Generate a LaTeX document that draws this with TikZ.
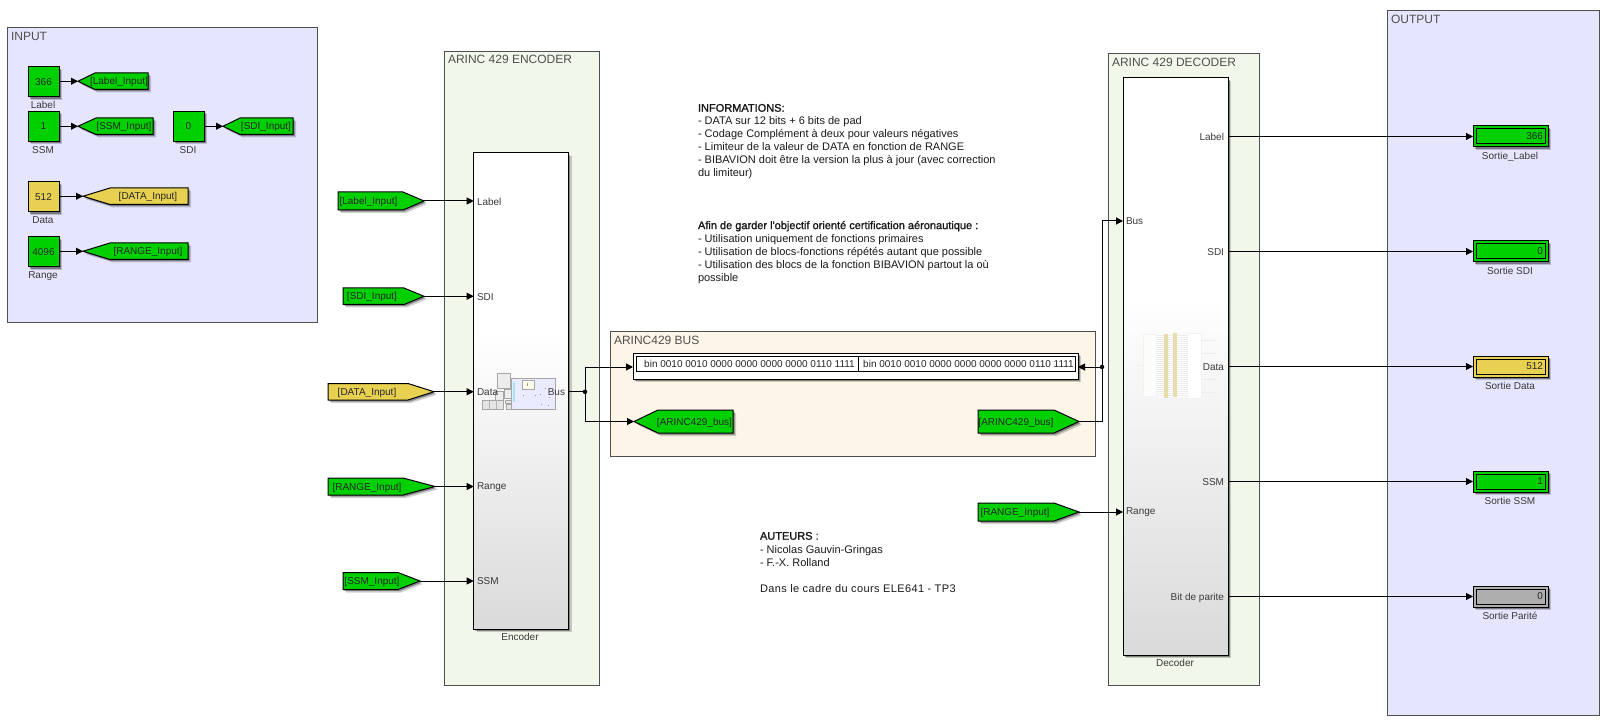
\documentclass[tikz,border=0pt]{standalone}
\usepackage{fontspec}
\setmainfont{Liberation Sans}
\newfontfamily\fakebold[FakeBold=1.6]{Liberation Sans}
\usetikzlibrary{arrows.meta,shadows}
\definecolor{simgreen}{HTML}{00D000}
\definecolor{simyellow}{HTML}{E8D050}
\definecolor{simgray}{HTML}{AEAEAE}
\definecolor{areaviolet}{HTML}{E5E5FD}
\definecolor{areagreen}{HTML}{F1F7EA}
\definecolor{areaorange}{HTML}{FDF5E7}
\definecolor{arealine}{HTML}{505050}
\definecolor{txtgray}{HTML}{3A3A3A}
\definecolor{gradbottom}{HTML}{DADADA}
\definecolor{thumbyellow}{HTML}{E6DDA8}
\pgfdeclareverticalshading{blockgrad}{100bp}{color(0bp)=(gradbottom); color(25bp)=(gradbottom); color(56bp)=(white); color(75bp)=(white); color(100bp)=(white)}
\tikzset{
  every node/.append style={outer sep=0pt},
  softshadow/.style={drop shadow={shadow xshift=3pt,shadow yshift=-3pt,opacity=.18,fill=black},drop shadow={shadow xshift=1.6pt,shadow yshift=-1.6pt,opacity=.35,fill=black}},
  area/.style={draw=arealine,line width=.9pt,anchor=north west,inner sep=0pt},
  areatitle/.style={anchor=west,inner sep=0pt,text=arealine,font=\fontsize{12}{14}\selectfont},
  constblock/.style={draw=black,line width=1pt,anchor=north west,inner sep=0pt,minimum width=31pt,minimum height=30pt,font=\fontsize{10}{12}\selectfont,text=black!85,softshadow},
  subsys/.style={draw=black,line width=1pt,anchor=north west,inner sep=0pt,shading=blockgrad,softshadow},
  penta/.style={draw=black,line width=1pt,line join=miter,softshadow},
  tagtext/.style={inner sep=0pt,text height=7.3pt,text depth=2.1pt,font=\fontsize{10}{12}\selectfont,text=black!85},
  caption/.style={inner sep=0pt,text height=7.3pt,text depth=2.1pt,text=txtgray,font=\fontsize{10}{12}\selectfont},
  portl/.style={inner sep=0pt,anchor=west,text height=7.3pt,text depth=2.1pt,text=txtgray,font=\fontsize{10}{12}\selectfont},
  portr/.style={inner sep=0pt,anchor=east,text height=7.3pt,text depth=2.1pt,text=txtgray,font=\fontsize{10}{12}\selectfont},
  sig/.style={draw=black,line width=1pt,-{Triangle[length=7pt,width=7pt]}},
  wire/.style={draw=black,line width=1pt},
  dotj/.style={circle,fill=black,inner sep=0pt,minimum size=4.5pt},
  disp/.style={draw=black,line width=1pt,anchor=north west,inner sep=0pt,minimum width=75pt,minimum height=21pt,softshadow},
  infotext/.style={anchor=north west,inner sep=0pt,align=left,text=black!90,font=\fontsize{11}{13.05}\selectfont},
  thumbbox/.style={draw=black!35,line width=1pt,fill=#1},
  thumbfade/.style={draw=black!5,line width=.8pt,fill=#1},
}
\newcommand{\boldnote}[1]{{\fakebold\fontsize{11}{13.05}\selectfont #1}}
% name, tip x, notch x, back x, top y, bottom y, fill, text centre x, text
\newcommand{\pentatag}[9]{%
  \path[penta,fill=#7] (#4,#5) -- (#3,#5) -- (#2,{(#5+#6)/2}) -- (#3,#6) -- (#4,#6) -- cycle;
  \coordinate (#1) at (#2,{(#5+#6)/2});
  \node[tagtext] at (#8,{(#5+#6)/2+1}) {#9};
}
% name, y, fill, value, caption
\newcommand{\dispblock}[5]{%
  \node[disp,fill=#3] (#1) at (1473,#2) {};
  \draw[black,line width=1pt] (1476,#2+3) rectangle (1545,#2+18);
  \node[tagtext,anchor=east] at (1543,#2+10.5) {#4};
  \node[caption] at (1510,#2+31) {#5};
}
\begin{document}
\begin{tikzpicture}[x=1pt,y=-1pt]
\useasboundingbox (0,0) rectangle (1609,727);
% areas
\node[area,fill=areaviolet,minimum width=310pt,minimum height=295pt] (inputarea) at (7.5,27) {};
\node[areatitle] at (11,36) {INPUT};
\node[area,fill=areagreen,minimum width=155pt,minimum height=634pt] (encarea) at (444,51) {};
\node[areatitle] at (448,59.5) {ARINC 429 ENCODER};
\node[area,fill=areagreen,minimum width=151pt,minimum height=632pt] (decarea) at (1108,53) {};
\node[areatitle] at (1112,62) {ARINC 429 DECODER};
\node[area,fill=areaorange,minimum width=485pt,minimum height=125pt] (busarea) at (610,331) {};
\node[areatitle] at (614,340) {ARINC429 BUS};
\node[area,fill=areaviolet,minimum width=212pt,minimum height=705pt] (outarea) at (1387,10) {};
\node[areatitle] at (1391,19) {OUTPUT};
% input area
\node[constblock,fill=simgreen] (cLabel) at (28,67) {366};
\node[caption] at (43,106) {Label};
\node[constblock,fill=simgreen] (cSSM) at (28,111.5) {1};
\node[caption] at (43,151) {SSM};
\node[constblock,fill=simgreen] (cSDI) at (173,111.5) {0};
\node[caption] at (188,151) {SDI};
\node[constblock,fill=simyellow] (cData) at (28,182) {512};
\node[caption] at (43,221) {Data};
\node[constblock,fill=simgreen] (cRange) at (28,237) {4096};
\node[caption] at (43,276) {Range};
\pentatag{gLabel}{78}{95}{148}{73}{89.5}{simgreen}{119}{[Label\_Input]}
\pentatag{gSSM}{78}{96}{153}{118}{134.5}{simgreen}{124}{[SSM\_Input]}
\pentatag{gSDI}{223}{240}{293}{118}{134.5}{simgreen}{266}{[SDI\_Input]}
\pentatag{gData}{83}{110}{188}{188}{204.5}{simyellow}{148}{[DATA\_Input]}
\pentatag{gRange}{83}{110}{188}{243}{259.5}{simgreen}{148}{[RANGE\_Input]}
\draw[sig] (cLabel.east |- gLabel) -- (gLabel);
\draw[sig] (cSSM.east |- gSSM) -- (gSSM);
\draw[sig] (cSDI.east |- gSDI) -- (gSDI);
\draw[sig] (cData.east |- gData) -- (gData);
\draw[sig] (cRange.east |- gRange) -- (gRange);
% encoder
\node[subsys,minimum width=95pt,minimum height=476pt] (enc) at (473.7,153) {};
\node[caption] at (520,638) {Encoder};
% encoder thumbnail
\begin{scope}
\draw[thumbbox=white!92!blue] (511,378) rectangle (555,409);
\draw[thumbbox=white!93!black] (497,373) rectangle (510,388);
\draw[thumbbox=white!93!black] (495,391) rectangle (503,400);
\draw[thumbbox=white!93!black] (504,389) rectangle (511,398);
\draw[thumbbox=white!90!black] (482.5,400) rectangle (503,409);
\draw[black!30,line width=.8pt] (489,400) -- (489,409) (496,400) -- (496,409);
\draw[thumbbox=white!90!black] (505,400) rectangle (511,403);
\draw[thumbbox=white!90!black] (506,404) rectangle (511,409);
\draw[thumbbox=white!92!yellow] (522,380) rectangle (534,389);
\fill[cyan!35] (512.5,382) rectangle (514.5,402);
\fill[black!40] (527,383) rectangle (528,386);
\foreach \tx/\ty in {523/395,535/395,540/394,545/388,549/397,541/404,548/405}{\fill[black!40] (\tx,\ty) rectangle +(1,1);}
\end{scope}
\node[portl] at (477,203) {Label};
\node[portl] at (477,298) {SDI};
\node[portl] at (477,392.5) {Data};
\node[portl] at (477,487) {Range};
\node[portl] at (477,582) {SSM};
\node[portr] at (565,393) {Bus};
\pentatag{fLabel}{424}{403}{338}{192}{210}{simgreen}{368.5}{[Label\_Input]}
\pentatag{fSDI}{424}{404}{343}{288}{304.5}{simgreen}{372}{[SDI\_Input]}
\pentatag{fData}{434}{408}{328}{383.5}{400}{simyellow}{367}{[DATA\_Input]}
\pentatag{fRange}{435}{403}{328}{478}{495}{simgreen}{367}{[RANGE\_Input]}
\pentatag{fSSM}{420}{398}{343}{572.5}{589.5}{simgreen}{372}{[SSM\_Input]}
\draw[sig] (fLabel) -- (enc.west |- fLabel);
\draw[sig] (fSDI) -- (enc.west |- fSDI);
\draw[sig] (fData) -- (enc.west |- fData);
\draw[sig] (fRange) -- (enc.west |- fRange);
\draw[sig] (fSSM) -- (enc.west |- fSSM);
\coordinate (eBus) at (568.7,391.8);
% bus display
\node[disp,fill=white,minimum width=445pt,minimum height=26pt] (busdisp) at (633,353) {};
\draw[black,line width=1pt] (636,356) rectangle (1075,371);
\draw[black,line width=1pt] (858,356) -- (858,371);
\node[tagtext] at (749.5,364.5) {bin 0010 0010 0000 0000 0000 0000 0110 1111};
\node[tagtext] at (968.5,364.5) {bin 0010 0010 0000 0000 0000 0000 0110 1111};
\pentatag{gBus}{634}{658}{733}{410}{433}{simgreen}{694.5}{[ARINC429\_bus]}
\pentatag{fBus}{1079}{1054}{978}{410}{433}{simgreen}{1016}{[ARINC429\_bus]}
\pentatag{fRangeD}{1079}{1054}{978}{503}{521}{simgreen}{1015}{[RANGE\_Input]}
\coordinate (jEnc) at (585,391.8);
\coordinate (busIn) at (633,367);
\coordinate (busInR) at (1078,367);
\coordinate (jDec) at (1102,367);
\draw[wire] (eBus) -- (jEnc);
\draw[sig] (jEnc) |- (busIn);
\draw[sig] (jEnc) |- (gBus);
\node[dotj] at (jEnc) {};
% decoder
\node[subsys,minimum width=105pt,minimum height=577pt] (dec) at (1123,78) {};
\node[caption] at (1175,664) {Decoder};
% decoder thumbnail
\begin{scope}
\draw[black!6,line width=.8pt] (1134,365.5) -- (1143,365.5);
\foreach \ty in {340,353,379,392}{\draw[black!7,line width=.8pt] (1201,\ty) -- (1216,\ty);}
\fill[black!7] (1156,335) rectangle (1187,397);
\foreach \ty in {336,338,...,396}{\draw[white,line width=.5pt] (1156,\ty) -- (1187,\ty);}
\draw[thumbfade=white!80!areagreen] (1143,334.5) rectangle (1156,396.5);
\draw[thumbfade=white] (1187,333.5) rectangle (1201,398);
\fill[thumbyellow] (1163.5,334) rectangle (1168,398);
\fill[thumbyellow] (1173,333) rectangle (1177,397);
\end{scope}
\node[portl] at (1126,222) {Bus};
\node[portl] at (1126,511.5) {Range};
\node[portr] at (1224,138) {Label};
\node[portr] at (1224,253) {SDI};
\node[portr] at (1224,368) {Data};
\node[portr] at (1224,483) {SSM};
\node[portr] at (1224,597.5) {Bit de parite};
\coordinate (dBus) at (1123,221);
\draw[wire] (fBus) -| (jDec);
\draw[sig] (jDec) -- (busInR);
\draw[sig] (jDec) |- (dBus);
\node[dotj] at (jDec) {};
\draw[sig] (fRangeD) -- (dec.west |- fRangeD);
% outputs
\dispblock{oLabel}{126}{simgreen}{366}{Sortie\_Label}
\dispblock{oSDI}{241}{simgreen}{0}{Sortie SDI}
\dispblock{oData}{356}{simyellow}{512}{Sortie Data}
\dispblock{oSSM}{471}{simgreen}{1}{Sortie SSM}
\dispblock{oPar}{586}{simgray}{0}{Sortie Parité}
\draw[sig] (dec.east |- oLabel.west) -- (oLabel.west);
\draw[sig] (dec.east |- oSDI.west) -- (oSDI.west);
\draw[sig] (dec.east |- oData.west) -- (oData.west);
\draw[sig] (dec.east |- oSSM.west) -- (oSSM.west);
\draw[sig] (dec.east |- oPar.west) -- (oPar.west);
% notes
\node[infotext] at (698,104) {\boldnote{INFORMATIONS:}\\- DATA sur 12 bits + 6 bits de pad\\- Codage Complément à deux pour valeurs négatives\\- Limiteur de la valeur de DATA en fonction de RANGE\\- BIBAVION doit être la version la plus à jour (avec correction\\du limiteur)};
\node[infotext] at (698,221) {\boldnote{Afin de garder l'objectif orienté certification aéronautique :}\\- Utilisation uniquement de fonctions primaires\\- Utilisation de blocs-fonctions répétés autant que possible\\- Utilisation des blocs de la fonction BIBAVION partout la où\\possible};
\node[infotext] at (760,532) {\boldnote{AUTEURS :}\\[.6pt]- Nicolas Gauvin-Gringas\\- F.-X. Rolland\\[13.05pt]{\addfontfeature{LetterSpace=3.5}Dans le cadre du cours ELE641 - TP3}};
\end{tikzpicture}
\end{document}
